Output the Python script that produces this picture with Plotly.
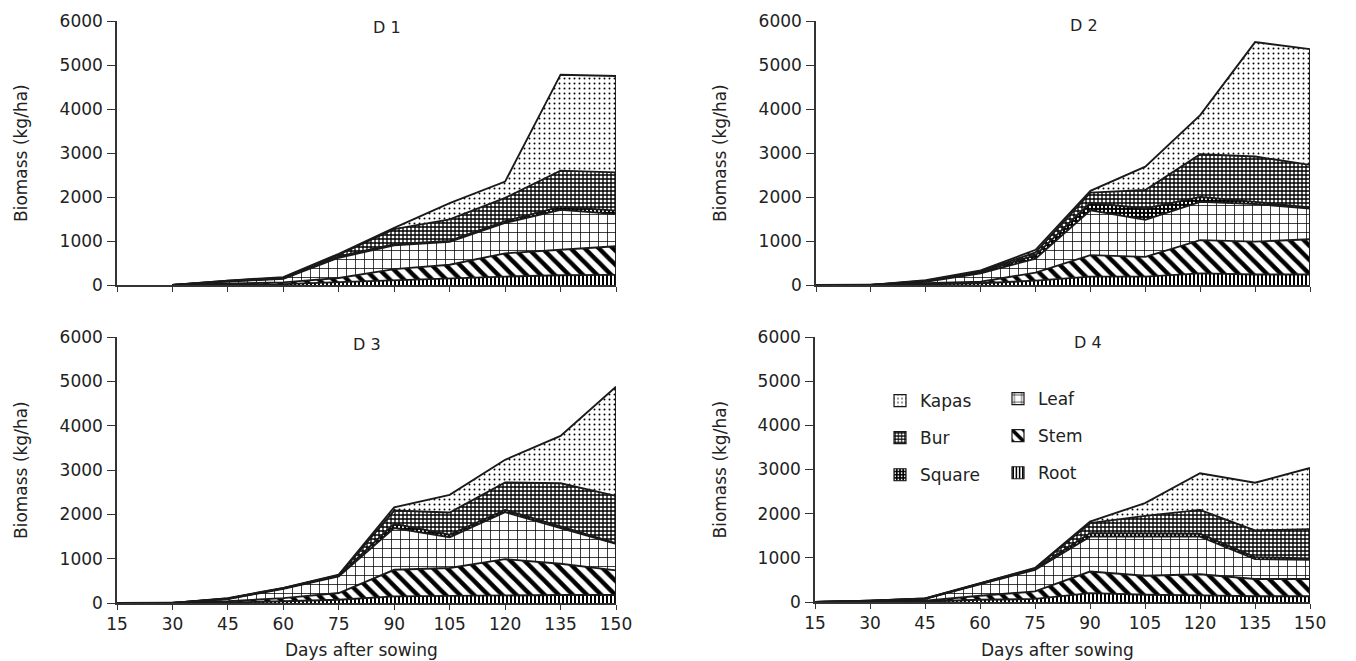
import plotly.graph_objects as go

# ---------------- data (component biomass, kg/ha) ----------------
days_d1 = [30, 45, 60, 75, 90, 105, 120, 135, 150]
days = [15, 30, 45, 60, 75, 90, 105, 120, 135, 150]

d1_root = [0, 5, 20, 65, 110, 150, 190, 220, 230]
d1_stem = [0, 25, 40, 95, 250, 310, 530, 580, 650]
d1_leaf = [0, 50, 80, 460, 540, 520, 690, 910, 730]
d1_square = [0, 5, 10, 30, 30, 20, 40, 70, 80]
d1_bur = [0, 10, 15, 40, 340, 490, 530, 820, 870]
d1_kapas = [0, 5, 15, 20, 30, 370, 370, 2180, 2190]

d2_root = [0, 0, 15, 40, 100, 190, 190, 265, 240, 240]
d2_stem = [0, 0, 25, 35, 180, 490, 450, 755, 745, 800]
d2_leaf = [0, 0, 35, 190, 320, 1020, 840, 870, 855, 700]
d2_square = [0, 0, 10, 25, 80, 170, 260, 110, 50, 25]
d2_bur = [0, 0, 15, 20, 60, 230, 420, 970, 1030, 965]
d2_kapas = [0, 0, 10, 20, 60, 40, 530, 890, 2600, 2630]

d3_root = [0, 0, 10, 40, 75, 150, 165, 180, 180, 180]
d3_stem = [0, 0, 30, 70, 150, 600, 625, 810, 705, 555]
d3_leaf = [0, 0, 50, 210, 375, 940, 695, 1060, 805, 600]
d3_square = [0, 0, 5, 10, 20, 95, 55, 50, 35, 15]
d3_bur = [0, 0, 10, 5, 10, 300, 500, 620, 975, 1065]
d3_kapas = [0, 0, 5, 5, 10, 75, 400, 510, 1070, 2465]

d4_root = [0, 0, 10, 50, 70, 200, 165, 150, 130, 130]
d4_stem = [0, 10, 20, 90, 170, 490, 430, 480, 390, 390]
d4_leaf = [0, 15, 40, 260, 490, 790, 885, 850, 450, 435]
d4_square = [0, 2, 5, 15, 20, 80, 80, 65, 45, 30]
d4_bur = [0, 1, 3, 10, 10, 225, 390, 540, 605, 665]
d4_kapas = [0, 2, 2, 5, 10, 35, 290, 830, 1080, 1385]

components = ["Root", "Stem", "Leaf", "Square", "Bur", "Kapas"]
panel_titles = ["D 1", "D 2", "D 3", "D 4"]
x_ticks = [15, 30, 45, 60, 75, 90, 105, 120, 135, 150]
y_ticks = [0, 1000, 2000, 3000, 4000, 5000, 6000]

panels = [
    (days_d1, [d1_root, d1_stem, d1_leaf, d1_square, d1_bur, d1_kapas]),
    (days, [d2_root, d2_stem, d2_leaf, d2_square, d2_bur, d2_kapas]),
    (days, [d3_root, d3_stem, d3_leaf, d3_square, d3_bur, d3_kapas]),
    (days, [d4_root, d4_stem, d4_leaf, d4_square, d4_bur, d4_kapas]),
]

# ---------------- styles ----------------
patterns = {
    "Root": dict(shape="|", fgcolor="black", bgcolor="white", size=4, solidity=0.5),
    "Stem": dict(shape="\\", fgcolor="black", bgcolor="white", size=10, solidity=0.45),
    "Leaf": dict(shape="+", fgcolor="black", bgcolor="white", size=9, solidity=0.16),
    "Square": dict(shape=".", fgcolor="white", bgcolor="black", size=4, solidity=0.25),
    "Bur": dict(shape="+", fgcolor="black", bgcolor="white", size=4, solidity=0.55),
    "Kapas": dict(shape=".", fgcolor="black", bgcolor="white", size=5, solidity=0.12),
}
legend_of = {"Kapas": "legend", "Bur": "legend", "Square": "legend",
             "Leaf": "legend2", "Stem": "legend2", "Root": "legend2"}
legend_rank = {"Kapas": 1, "Bur": 2, "Square": 3, "Leaf": 1, "Stem": 2, "Root": 3}

W, H = 1356, 661
OFF = 8  # page body margin of the html page
# panel pixel boxes: (x0, x1, ytop, ybottom)
boxes = [(117, 616, 21, 285), (816, 1310, 21, 285),
         (117, 616, 337, 603), (815, 1310, 337, 602)]
title_pos = [(387, 28), (1084, 25), (367, 344), (1088, 342)]
FONT = "DejaVu Sans, sans-serif"
INK = "#1a1a1a"


def px(x):
    return (x - OFF) / W


def py(y):
    return 1 - (y - OFF) / H


fig = go.Figure()
for i, (xs, series) in enumerate(panels):
    ax = "" if i == 0 else str(i + 1)
    for name, vals in zip(components, series):
        fig.add_trace(go.Scatter(
            x=xs, y=vals, name=name, mode="lines",
            stackgroup=f"p{i}",
            line=dict(color=INK, width=1.9),
            fillpattern=patterns[name],
            xaxis="x" + ax, yaxis="y" + ax,
            showlegend=False,
            hoverinfo="x+y+name",
        ))
    # right-hand edge of the stacked area (end of the season)
    total_end = sum(s[-1] for s in series)
    fig.add_trace(go.Scatter(
        x=[xs[-1], xs[-1]], y=[0, total_end], mode="lines",
        line=dict(color=INK, width=1.9), showlegend=False,
        xaxis="x" + ax, yaxis="y" + ax, hoverinfo="skip"))

# legend entries (square swatches)
for name in components:
    fig.add_trace(go.Bar(
        x=[None], y=[None], name=name,
        marker=dict(color="white", pattern=patterns[name],
                    line=dict(color=INK, width=1.2)),
        xaxis="x4", yaxis="y4", showlegend=True,
        legend=legend_of[name], legendgroup=name,
        legendrank=legend_rank[name], hoverinfo="skip",
    ))

layout = dict(
    template="none",
    width=W, height=H, margin=dict(l=0, r=0, t=0, b=0, autoexpand=False),
    paper_bgcolor="white", plot_bgcolor="rgba(0,0,0,0)",
    font=dict(family=FONT, color="#222", size=17),
    annotations=[], showlegend=True,
)
for i, (x0, x1, yt, yb) in enumerate(boxes):
    ax = "" if i == 0 else str(i + 1)
    layout["xaxis" + ax] = dict(
        domain=[px(x0), px(x1)], range=[15, 150], tickvals=x_ticks,
        ticks="outside", ticklen=5, tickwidth=1, tickcolor="#333",
        showline=True, linecolor="#333", linewidth=1.5, showgrid=False,
        zeroline=False, showticklabels=(i >= 2), automargin=False,
        tickfont=dict(size=17, family=FONT, color="#222"), anchor="y" + ax,
        ticklabelstandoff=0,
    )
    layout["yaxis" + ax] = dict(
        domain=[py(yb), py(yt)], range=[0, 6000], tickvals=y_ticks,
        ticks="outside", ticklen=8, tickwidth=1, tickcolor="#333",
        showline=True, linecolor="#333", linewidth=1.5, showgrid=False,
        zeroline=False, automargin=False,
        tickfont=dict(size=17, family=FONT, color="#222"), anchor="x" + ax,
        ticklabelstandoff=1,
    )
    tx, ty = title_pos[i]
    layout["annotations"].append(dict(
        text=panel_titles[i], xref="paper", yref="paper",
        x=px(tx), y=py(ty), showarrow=False,
        font=dict(size=16, family=FONT), xanchor="center", yanchor="middle"))
    layout["annotations"].append(dict(
        text="Biomass (kg/ha)", xref="paper", yref="paper",
        x=px(x0 - 96), y=py((yt + yb) / 2), textangle=-90,
        showarrow=False, font=dict(size=17, family=FONT),
        xanchor="center", yanchor="middle"))
    if i >= 2:
        layout["annotations"].append(dict(
            text="Days after sowing", xref="paper", yref="paper",
            x=px((x0 + x1) / 2 - 5), y=py(650), showarrow=False,
            font=dict(size=17, family=FONT), xanchor="center", yanchor="middle"))

leg_common = dict(bgcolor="rgba(0,0,0,0)", borderwidth=0, traceorder="grouped",
                  tracegroupgap=12, font=dict(size=17, family=FONT),
                  xanchor="left", yanchor="top", itemwidth=30)
layout["legend"] = dict(x=px(880), y=py(383), **leg_common)
layout["legend2"] = dict(x=px(998), y=py(381), **leg_common)

fig.update_layout(**layout)
fig.write_html("out.html")
